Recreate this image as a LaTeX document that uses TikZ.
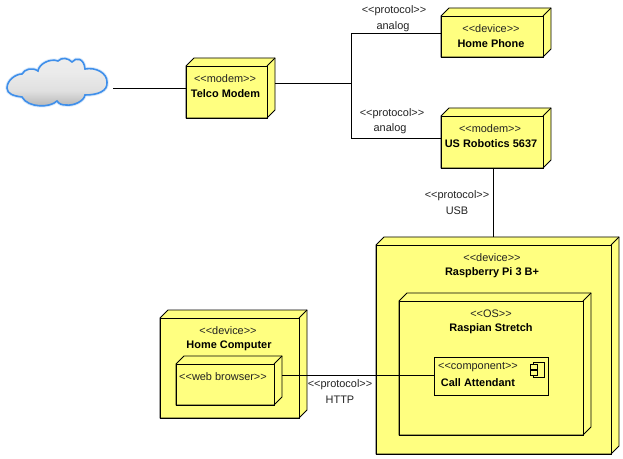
\documentclass[tikz,border=0pt]{standalone}
\usepackage{fontspec}
\setmainfont{Liberation Sans}
\usetikzlibrary{fit}
\definecolor{nodeyellow}{HTML}{FFFF80}
\definecolor{cloudblue}{HTML}{3F8FEA}
\definecolor{labelgray}{HTML}{222222}
\pgfdeclareverticalshading{cloudshade}{100bp}{
  color(0bp)=(black!38); color(25bp)=(black!30); color(42bp)=(black!12);
  color(60bp)=(black!8); color(100bp)=(black!5)}
\tikzset{
  ln/.style={draw=black,line width=0.62pt},
  stereo/.style={font=\fontsize{8.2}{10}\selectfont,text=labelgray,inner sep=0pt,anchor=center},
  title/.style={font=\fontsize{8.2}{10}\selectfont\bfseries,text=black,inner sep=0pt,anchor=center},
  conn/.style={draw=black,line width=0.62pt}
}
\newcommand{\sq}[1]{<{}<#1>{}>}
\newcommand{\cloudpath}{(7,88) .. controls (7,80) and (16,74) .. (22,74)
  .. controls (25,69) and (32,67) .. (38,71)
  .. controls (39,64) and (50,58) .. (58,61)
  .. controls (62,57) and (68,58) .. (72,62)
  .. controls (76,57) and (84,58) .. (85,69)
  .. controls (96,67) and (107,73) .. (107,82)
  .. controls (108,91) and (98,95) .. (85,95)
  .. controls (84,101) and (74,106) .. (66,105)
  .. controls (62,105) and (59,104) .. (57,101)
  .. controls (50,108) and (28,108) .. (22,97)
  .. controls (14,96) and (7,94) .. (7,88) -- cycle}
% name, x1, y1, x2, y2, depth (front face x1..x2, y1..y2)
\newcommand{\cubenode}[6]{%
  \path[ln,fill=nodeyellow,line join=miter]
    (#2,#3) -- (#2+#6,#3-#6) -- (#4+#6,#3-#6) -- (#4+#6,#5-#6) -- (#4,#5) -- (#2,#5) -- cycle;
  \draw[ln] (#2,#3) rectangle (#4,#5);
  \draw[ln] (#4,#3) -- (#4+#6,#3-#6);
  \path (#2,#3-#6) coordinate (#1nw) (#4+#6,#5) coordinate (#1se);
  \node[inner sep=0pt,outer sep=0pt,fit=(#1nw)(#1se)] (#1) {};
}
\begin{document}
\begin{tikzpicture}[x=0.75pt,y=-0.75pt]
\useasboundingbox (0,0) rectangle (623,459);
% cloud
\path[draw=cloudblue,opacity=0.2,line width=2.6pt] \cloudpath;
\path[draw=cloudblue,line width=1.2pt,shading=cloudshade] \cloudpath;
\node[inner sep=0pt,outer sep=0pt,minimum size=1pt] (cloud) at (60,88) {};
\coordinate (cloudr) at (113,88);
% nodes
\cubenode{telco}{186}{66}{267}{118}{8}
\cubenode{phone}{441}{16}{543}{57}{8}
\cubenode{usr}{441}{116}{543}{168}{8}
\cubenode{pi}{376}{245}{611}{454}{8}
\cubenode{os}{399}{301}{583}{435}{8}
\cubenode{hc}{160}{318}{299}{418}{8}
\cubenode{web}{176}{364}{274}{405}{8}
\node[draw=black,line width=0.62pt,fill=nodeyellow,minimum width=85.5pt,minimum height=28.5pt,inner sep=0pt,outer sep=0pt] (comp) at (491,376) {};
% component icon
\draw[ln,fill=nodeyellow] (533,362) rectangle (544,377);
\draw[ln,fill=nodeyellow] (530,364) rectangle (537,369);
\draw[ln,fill=nodeyellow] (530,370) rectangle (537,375);
% junction coordinates
\coordinate (j) at (351,83);
\coordinate (jt) at (351,33);
\coordinate (jb) at (351,138);
\coordinate (u) at (493,200);
\coordinate (h) at (358,375);
% connectors
\draw[conn] (cloudr) -- (telco.west |- cloudr);
\draw[conn] (telco.east |- j) -- (j);
\draw[conn] (phone.west |- jt) -- (jt) -- (jb) -- (usr.west |- jb);
\draw[conn] (usr.south -| u) -- (pi.north -| u);
\draw[conn] (web.east |- h) -- (comp.west |- h);
% texts
\node[stereo] (t1) at (225,78.5) {\sq{modem}};
\node[title] (t2) at (225.5,93.5) {Telco Modem};
\node[stereo] (t3) at (491,28.5) {\sq{device}};
\node[title] (t4) at (491,43.5) {Home Phone};
\node[stereo] (t5) at (490,128.5) {\sq{modem}};
\node[title] (t6) at (491,143.5) {US Robotics 5637};
\node[stereo] (t7) at (492,257.5) {\sq{device}};
\node[title] (t8) at (492,272.5) {Raspberry Pi 3 B+};
\node[stereo] (t9) at (491,313.5) {\sq{OS}};
\node[title] (t10) at (491,328.5) {Raspian Stretch};
\node[stereo] (t11) at (478,367.5) {\sq{component}};
\node[title] (t12) at (478,382.5) {Call Attendant};
\node[stereo] (t13) at (228,330.5) {\sq{device}};
\node[title] (t14) at (229,345.5) {Home Computer};
\node[stereo] (t15) at (223,376.5) {\sq{web browser}};
\node[stereo] (t16) at (394,10.5) {\sq{protocol}};
\node[stereo] (t17) at (393,26.5) {analog};
\node[stereo] (t18) at (392,113.5) {\sq{protocol}};
\node[stereo] (t19) at (390,128.5) {analog};
\node[stereo] (t20) at (457,195.5) {\sq{protocol}};
\node[stereo] (t21) at (457,210.5) {USB};
\node[stereo] (t22) at (340,384.5) {\sq{protocol}};
\node[stereo] (t23) at (340,399.5) {HTTP};
\end{tikzpicture}
\end{document}
